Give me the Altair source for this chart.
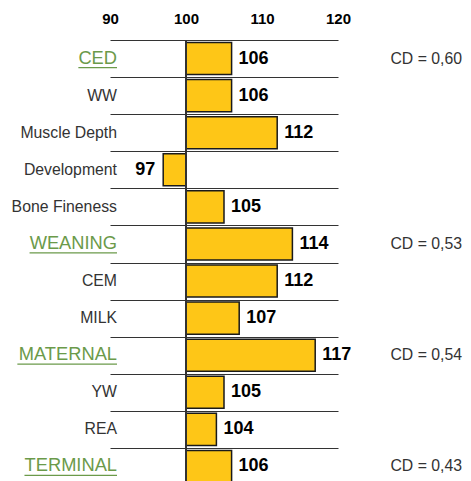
import altair as alt
import pandas as pd

categories = ["CED", "WW", "Muscle Depth", "Development", "Bone Fineness", "WEANING",
              "CEM", "MILK", "MATERNAL", "YW", "REA", "TERMINAL"]
values = [106, 106, 112, 97, 105, 114, 112, 107, 117, 105, 104, 106]
is_header = [True, False, False, False, False, True, False, False, True, False, False, True]
cd_labels = ["CD = 0,60", "", "", "", "", "CD = 0,53", "", "", "CD = 0,54", "", "", "CD = 0,43"]
x_ticks = [90, 100, 110, 120]
baseline = 100

FONT = "Liberation Sans"
HEAD_SIZE = 18.3
BODY_SIZE = 15.8
LABEL_X = 7  # right edge of the category labels, px from plot's left edge

# Arial/Liberation Sans advance widths (em) for the underline length of header labels
ARIAL_W = {"A": .667, "C": .722, "D": .722, "E": .667, "G": .778, "I": .278, "L": .556,
           "M": .833, "N": .722, "R": .722, "T": .611, "W": .944}


def text_width(s, size):
    return sum(ARIAL_W.get(c, .6) for c in s) * size


df = pd.DataFrame({
    "cat": categories,
    "value": values,
    "header": is_header,
    "cd": cd_labels,
})
df["ul_left"] = [LABEL_X - text_width(c, HEAD_SIZE) if h else LABEL_X
                 for c, h in zip(categories, is_header)]

y_enc = alt.Y(
    "cat:N", sort=categories,
    scale=alt.Scale(paddingInner=0, paddingOuter=0),
    axis=alt.Axis(grid=True, tickBand="extent", labels=False, ticks=False,
                  domain=False, title=None, gridColor="#333333", gridWidth=1,
                  gridOpacity=1),
)
y_plain = alt.Y("cat:N", sort=categories)

x_scale = alt.Scale(domain=[90, 120], nice=False, zero=False)

base = alt.Chart(df)

bars = base.mark_bar(
    fill="#FEC617", stroke="#1a1a1a", strokeWidth=1.5,
    height=alt.RelativeBandSize(0.865),
).encode(
    x=alt.X("value:Q", scale=x_scale,
            axis=alt.Axis(orient="top", values=x_ticks, grid=False, ticks=False,
                          domain=False, labelFontSize=15, labelFontWeight="bold",
                          labelPadding=14, labelColor="black", labelFont=FONT,
                          labelFlush=False, title=None, format="d")),
    x2=alt.datum(baseline),
    y=y_enc,
)

vline = base.mark_rule(color="#333333", strokeWidth=1).encode(
    x=alt.datum(baseline),
)

val_pos = base.transform_filter(f"datum.value >= {baseline}").mark_text(
    align="left", baseline="middle", dx=7, font=FONT, fontSize=18,
    fontWeight="bold", color="black",
).encode(x=alt.X("value:Q", scale=x_scale), y=y_plain, text="value:Q")

val_neg = base.transform_filter(f"datum.value < {baseline}").mark_text(
    align="right", baseline="middle", dx=-8, font=FONT, fontSize=18,
    fontWeight="bold", color="black",
).encode(x=alt.X("value:Q", scale=x_scale), y=y_plain, text="value:Q")

cat_head = base.transform_filter("datum.header").mark_text(
    align="right", baseline="middle", font=FONT, fontSize=HEAD_SIZE, color="#6B9A4A",
).encode(x=alt.value(LABEL_X), y=y_plain, text="cat:N")

underline = base.transform_filter("datum.header").mark_rule(
    color="#6B9A4A", strokeWidth=1.2, yOffset=9,
).encode(
    x=alt.X("ul_left:Q", scale=None),
    x2=alt.value(LABEL_X),
    y=y_plain,
)

cat_body = base.transform_filter("!datum.header").mark_text(
    align="right", baseline="middle", font=FONT, fontSize=BODY_SIZE, color="#333333",
).encode(x=alt.value(LABEL_X), y=y_plain, text="cat:N")

cd_text = base.transform_filter("datum.cd != ''").mark_text(
    align="right", baseline="middle", font=FONT, fontSize=BODY_SIZE, color="#333333",
).encode(x=alt.value(352), y=y_plain, text="cd:N")

chart = alt.layer(bars, vline, val_pos, val_neg, cat_head, underline, cat_body, cd_text).properties(
    width=228, height=445,
    autosize=alt.AutoSizeParams(type="none"),
    padding={"left": 102, "top": 32, "right": 125, "bottom": 0},
    background="white",
).configure_view(stroke=None)

chart.save("out.html", embed_options={"renderer": "svg", "actions": False})
